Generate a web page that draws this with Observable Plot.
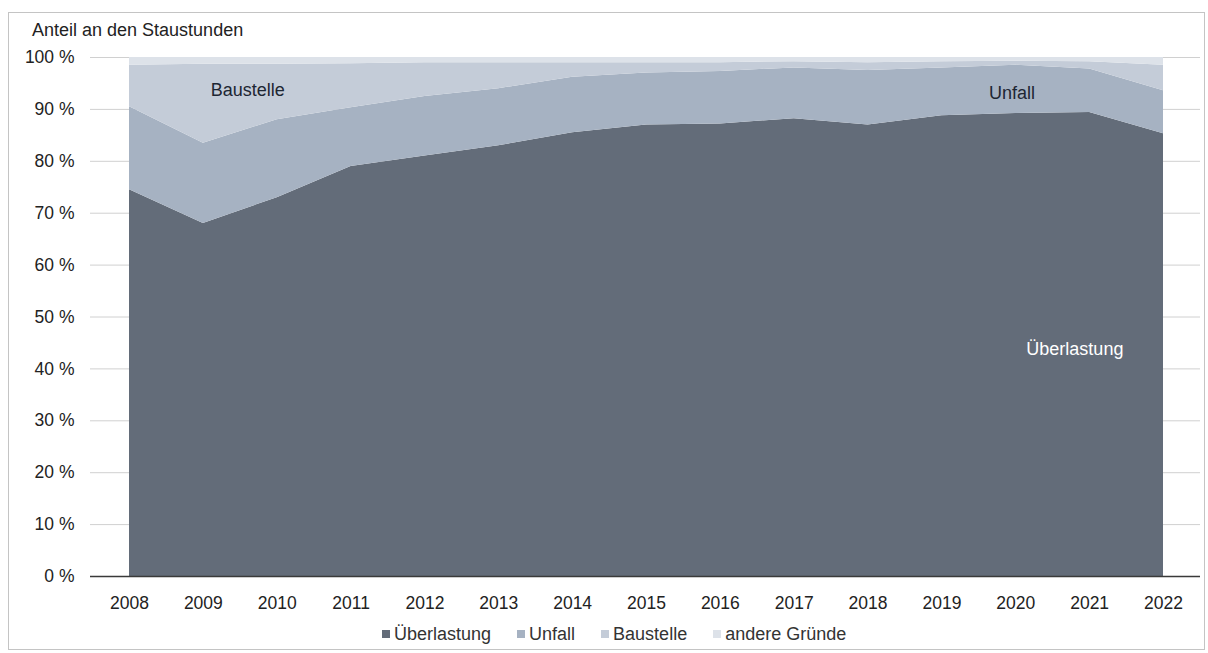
<!DOCTYPE html>
<html><head><meta charset="utf-8">
<script src="https://cdn.jsdelivr.net/npm/d3@7"></script>
<script src="https://cdn.jsdelivr.net/npm/@observablehq/plot@0.6"></script>
<style>
body{margin:0;background:#fff;font-family:"Liberation Sans",Arial,sans-serif;}
#wrap{position:relative;width:1208px;height:653px;overflow:hidden;background:#fff;}
#frame{position:absolute;left:8px;top:12px;width:1195px;height:636px;border:1px solid #c4c4c4;}
#title{position:absolute;left:32px;top:21px;font-size:18px;color:#222;line-height:1;}
#chart{position:absolute;left:0;top:0;}
#legend{position:absolute;top:625px;left:382px;display:flex;gap:26px;font-size:18px;color:#333;line-height:1;}
#legend .it{display:flex;align-items:center;}
#legend .sw{width:8px;height:8px;margin-right:4px;display:inline-block;}
</style></head>
<body>
<div id="wrap">
  <div id="frame"></div>
  <div id="chart"></div>
  <div id="title">Anteil an den Staustunden</div>
  <div id="legend"></div>
</div>
<script>
const years = [2008,2009,2010,2011,2012,2013,2014,2015,2016,2017,2018,2019,2020,2021,2022];
const causes = ["Überlastung","Unfall","Baustelle","andere Gründe"];
const colors = ["#636c79","#a6b2c2","#c4ccd8","#dde2e9"];
const ueberlastung = [74.5,68.0,73.0,79.0,81.0,83.0,85.5,87.0,87.2,88.2,87.0,88.8,89.2,89.4,85.3];
const unfall       = [16.0,15.5,15.0,11.3,11.5,11.0,10.7,10.0,10.1,9.8,10.5,9.2,9.3,8.4,8.3];
const baustelle    = [8.0,15.2,10.7,8.5,6.5,5.0,2.8,2.0,1.7,1.2,1.5,1.2,0.8,1.4,4.9];
const andere       = [1.5,1.3,1.3,1.2,1.0,1.0,1.0,1.0,1.0,0.8,1.0,0.8,0.7,0.8,1.5];
const yTicks = [0,10,20,30,40,50,60,70,80,90,100];
const labelText = ["Baustelle","Unfall","Überlastung"];
const labelYear = [2009.6,2019.95,2020.8];
const labelValue = [93.6,93.2,43.7];
const labelColor = ["#1d2633","#1d2633","#ffffff"];

const series = [ueberlastung, unfall, baustelle, andere];
const rows = [];
series.forEach((vals, i) => years.forEach((y, j) => rows.push({year: y, cause: causes[i], value: vals[j]})));
const labels = labelText.map((t, i) => ({text: t, year: labelYear[i], value: labelValue[i], color: labelColor[i]}));

const chart = Plot.plot({
  width: 1208, height: 625,
  marginTop: 57, marginBottom: 49, marginLeft: 90, marginRight: 8,
  x: {domain: [2008, 2022], range: [129, 1163]},
  y: {domain: [0, 100]},
  color: {domain: causes, range: colors},
  style: {fontFamily: "Liberation Sans, Arial, sans-serif", fontSize: "17.5px", color: "#222", background: "transparent"},
  marks: [
    Plot.ruleY(yTicks, {stroke: "#d0d0d0", strokeWidth: 1}),
    Plot.areaY(rows, {x: "year", y: "value", fill: "cause", order: causes}),
    Plot.ruleY([0], {stroke: "#3a3a3a", strokeWidth: 1.5}),
    Plot.axisY({ticks: yTicks, tickSize: 0, tickPadding: 16, tickFormat: d => `${d} %`, label: null}),
    Plot.axisX({ticks: years, tickSize: 0, tickPadding: 20, tickFormat: d => String(d), label: null}),
    Plot.text(labels, {x: "year", y: "value", text: "text", fill: "color", fontSize: 18})
  ]
});
document.getElementById("chart").appendChild(chart);

const lg = document.getElementById("legend");
causes.forEach((c, i) => {
  const it = document.createElement("div");
  it.className = "it";
  const sw = document.createElement("span");
  sw.className = "sw";
  sw.style.background = colors[i];
  it.appendChild(sw);
  it.appendChild(document.createTextNode(c));
  lg.appendChild(it);
});
</script>
</body></html>
